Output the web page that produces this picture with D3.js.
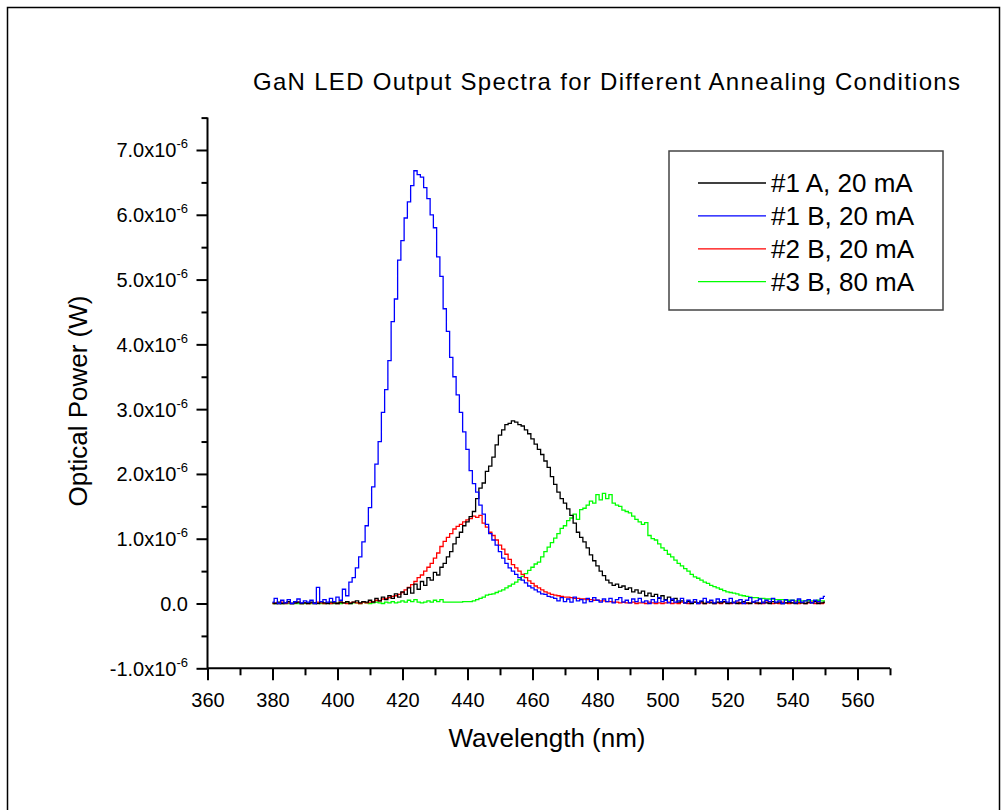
<!DOCTYPE html>
<html lang="en">
  <head>
    <meta charset="utf-8">
    <title>GaN LED Output Spectra</title>
    <script src="https://d3js.org/d3.v7.min.js"></script>
    <style>
      body { margin: 0; background: #fff; }
      text { font-family: "Liberation Sans", Arial, sans-serif; fill: #000; }
    </style>
  </head>
  <body>
  <div id="my_dataviz"></div>

  <script>

    // wavelength grid of the spectrometer, nm (1 nm steps)
    var wavelengths = d3.range(380, 551);

    // optical power in units of 1e-6 W, one value per nm from 380 to 550
    var spec1A = [
      0.01, 0.00, 0.02, 0.00, 0.01, 0.03, 0.00, 0.01, 0.02, 0.00,
      0.01, 0.00, 0.02, 0.01, 0.00, 0.03, 0.01, 0.00, 0.02, 0.01,
      0.00, 0.02, 0.01, 0.03, 0.00, 0.02, 0.04, 0.01, 0.03, 0.02,
      0.05, 0.02, 0.08, 0.04, 0.10, 0.06, 0.12, 0.08, 0.15, 0.10,
      0.18, 0.14, 0.24, 0.16, 0.30, 0.22, 0.34, 0.28, 0.40, 0.36,
      0.48, 0.44, 0.56, 0.62, 0.72, 0.80, 0.92, 1.02, 1.10, 1.20,
      1.26, 1.34, 1.42, 1.62, 1.78, 1.86, 2.04, 2.12, 2.26, 2.45,
      2.60, 2.68, 2.76, 2.78, 2.82, 2.80, 2.76, 2.74, 2.68, 2.62,
      2.54, 2.46, 2.38, 2.30, 2.20, 2.10, 1.96, 1.84, 1.72, 1.62,
      1.55, 1.46, 1.36, 1.24, 1.10, 1.02, 0.95, 0.86, 0.75, 0.66,
      0.58, 0.50, 0.43, 0.36, 0.32, 0.28, 0.30, 0.25, 0.27, 0.22,
      0.24, 0.18, 0.21, 0.16, 0.19, 0.12, 0.16, 0.11, 0.14, 0.08,
      0.12, 0.06, 0.10, 0.05, 0.08, 0.02, 0.04, 0.01, 0.03, 0.00,
      0.02, 0.01, 0.03, 0.00, 0.02, 0.01, 0.00, 0.02, 0.01, 0.03,
      0.00, 0.01, 0.02, 0.00, 0.01, 0.03, 0.01, 0.00, 0.02, 0.01,
      0.00, 0.02, 0.01, 0.00, 0.03, 0.01, 0.02, 0.00, 0.01, 0.02,
      0.01, 0.00, 0.02, 0.01, 0.00, 0.02, 0.01, 0.03, 0.00, 0.01,
      0.02
    ];

    var spec1B = [
      0.02, 0.08, 0.00, 0.05, 0.01, 0.06, 0.00, 0.03, 0.07, 0.01,
      0.04, 0.02, 0.05, 0.00, 0.25, 0.03, 0.06, 0.02, 0.08, 0.03,
      0.10, 0.05, 0.22, 0.12, 0.33, 0.40, 0.55, 0.72, 0.95, 1.20,
      1.48, 1.80, 2.15, 2.50, 2.95, 3.30, 3.75, 4.35, 4.70, 5.30,
      5.60, 5.95, 6.20, 6.45, 6.68, 6.62, 6.58, 6.42, 6.25, 6.00,
      5.80, 5.35, 5.05, 4.55, 4.20, 3.80, 3.50, 3.22, 2.95, 2.65,
      2.38, 2.05, 1.85, 1.72, 1.52, 1.38, 1.22, 1.08, 0.98, 0.90,
      0.80, 0.70, 0.62, 0.55, 0.50, 0.45, 0.40, 0.36, 0.32, 0.27,
      0.24, 0.21, 0.18, 0.15, 0.14, 0.11, 0.10, 0.08, 0.04, 0.09,
      0.03, 0.07, 0.02, 0.10, 0.04, 0.06, 0.01, 0.08, 0.03, 0.09,
      0.05, 0.02, 0.07, 0.03, 0.08, 0.01, 0.06, 0.09, 0.02, 0.05,
      0.01, 0.07, 0.03, 0.08, 0.02, 0.04, 0.00, 0.06, 0.02, 0.09,
      0.03, 0.05, 0.01, 0.07, 0.02, 0.04, 0.08, 0.01, 0.05, 0.02,
      0.06, 0.00, 0.04, 0.08, 0.02, 0.05, 0.01, 0.07, 0.03, 0.06,
      0.02, 0.08, 0.01, 0.04, 0.06, 0.00, 0.05, 0.09, 0.02, 0.04,
      0.07, 0.01, 0.05, 0.03, 0.08, 0.02, 0.04, 0.00, 0.06, 0.03,
      0.05, 0.01, 0.07, 0.02, 0.04, 0.06, 0.01, 0.05, 0.03, 0.08,
      0.11
    ];

    var spec2B = [
      0.00, 0.01, 0.00, 0.02, 0.00, 0.01, 0.00, 0.01, 0.02, 0.00,
      0.01, 0.00, 0.01, 0.00, 0.02, 0.01, 0.00, 0.01, 0.00, 0.01,
      0.00, 0.02, 0.01, 0.00, 0.01, 0.02, 0.01, 0.00, 0.02, 0.01,
      0.02, 0.03, 0.05, 0.04, 0.07, 0.08, 0.09, 0.11, 0.12, 0.14,
      0.17, 0.21, 0.25, 0.29, 0.34, 0.40, 0.44, 0.50, 0.56, 0.62,
      0.70, 0.78, 0.88, 0.96, 1.02, 1.08, 1.15, 1.19, 1.22, 1.26,
      1.29, 1.31, 1.35, 1.33, 1.36, 1.24, 1.18, 1.10, 1.05, 0.98,
      0.90, 0.84, 0.76, 0.68, 0.60, 0.55, 0.50, 0.45, 0.40, 0.35,
      0.31, 0.27, 0.24, 0.21, 0.18, 0.16, 0.14, 0.13, 0.12, 0.11,
      0.10, 0.10, 0.09, 0.08, 0.08, 0.07, 0.07, 0.06, 0.06, 0.05,
      0.05, 0.04, 0.04, 0.03, 0.03, 0.02, 0.02, 0.01, 0.02, 0.01,
      0.01, 0.02, 0.00, 0.01, 0.01, 0.00, 0.02, 0.01, 0.00, 0.01,
      0.00, 0.01, 0.02, 0.00, 0.01, 0.00, 0.02, 0.01, 0.00, 0.01,
      0.02, 0.00, 0.01, 0.00, 0.01, 0.02, 0.00, 0.01, 0.00, 0.02,
      0.01, 0.00, 0.01, 0.02, 0.00, 0.01, 0.00, 0.01, 0.02, 0.00,
      0.01, 0.00, 0.02, 0.01, 0.00, 0.01, 0.00, 0.02, 0.01, 0.00,
      0.01, 0.02, 0.00, 0.01, 0.00, 0.01, 0.02, 0.00, 0.01, 0.00,
      0.01
    ];

    var spec3B = [
      0.00, 0.00, 0.00, 0.00, 0.00, 0.00, 0.00, 0.00, 0.00, 0.00,
      0.00, 0.01, 0.00, 0.00, 0.01, 0.00, 0.00, 0.01, 0.00, 0.00,
      0.01, 0.00, 0.01, 0.02, 0.00, 0.01, 0.01, 0.00, 0.02, 0.01,
      0.00, 0.01, 0.02, 0.01, 0.00, 0.02, 0.01, 0.03, 0.01, 0.02,
      0.04, 0.02, 0.05, 0.03, 0.06, 0.02, 0.01, 0.02, 0.04, 0.02,
      0.05, 0.03, 0.06, 0.02, 0.02, 0.02, 0.02, 0.02, 0.02, 0.03,
      0.03, 0.03, 0.04, 0.06, 0.08, 0.10, 0.13, 0.14, 0.15, 0.17,
      0.19, 0.21, 0.24, 0.27, 0.30, 0.33, 0.37, 0.42, 0.46, 0.51,
      0.56, 0.61, 0.64, 0.72, 0.80, 0.87, 0.94, 1.01, 1.08, 1.16,
      1.20, 1.28, 1.32, 1.38, 1.30, 1.45, 1.47, 1.52, 1.58, 1.55,
      1.68, 1.60, 1.70, 1.62, 1.68, 1.55, 1.52, 1.50, 1.44, 1.42,
      1.40, 1.35, 1.30, 1.26, 1.22, 1.25, 1.05, 1.00, 0.98, 0.92,
      0.86, 0.82, 0.76, 0.72, 0.67, 0.62, 0.58, 0.54, 0.50, 0.45,
      0.41, 0.39, 0.36, 0.33, 0.31, 0.28, 0.26, 0.24, 0.22, 0.20,
      0.18, 0.17, 0.16, 0.15, 0.13, 0.12, 0.11, 0.10, 0.09, 0.09,
      0.08, 0.08, 0.07, 0.07, 0.07, 0.06, 0.06, 0.06, 0.05, 0.05,
      0.05, 0.04, 0.05, 0.04, 0.04, 0.05, 0.04, 0.04, 0.05, 0.04,
      0.04
    ];

    var seriesNames = ["#1 A, 20 mA", "#1 B, 20 mA", "#2 B, 20 mA", "#3 B, 80 mA"];
    var seriesColors = ["#000000", "#0000ff", "#ff0000", "#00ff00"];
    var seriesValues = [spec1A, spec1B, spec2B, spec3B];

    var xMajorTicks = [360, 380, 400, 420, 440, 460, 480, 500, 520, 540, 560];
    var xMinorTicks = [370, 390, 410, 430, 450, 470, 490, 510, 530, 550, 570];
    var yMajorTicks = [-1, 0, 1, 2, 3, 4, 5, 6, 7];
    var yMinorTicks = [-0.5, 0.5, 1.5, 2.5, 3.5, 4.5, 5.5, 6.5, 7.5];

    var w = 1002;
    var h = 810;

    // scales (y in units of 1e-6 W)
    var xScale = d3.scaleLinear()
      .domain([360, 570])
      .range([207.5, 890]);

    var yScale = d3.scaleLinear()
      .domain([-1, 7.5])
      .range([668.3, 117.6]);

    var svg = d3.select("#my_dataviz")
      .append("svg")
      .attr("width", w)
      .attr("height", h);

    // outer frame
    svg.append("rect")
      .attr("x", 7.5)
      .attr("y", 7.5)
      .attr("width", 992)
      .attr("height", 820)
      .attr("fill", "none")
      .attr("stroke", "#000")
      .attr("stroke-width", 1.5);

    // title
    svg.append("text")
      .attr("x", 253)
      .attr("y", 90)
      .attr("textLength", 707)
      .attr("lengthAdjust", "spacing")
      .style("font-size", "24px")
      .text("GaN LED Output Spectra for Different Annealing Conditions");

    // curves, drawn as steps like the original spectrometer export
    var line = d3.line()
      .x(function(d, i) { return xScale(wavelengths[i]); })
      .y(function(d) { return yScale(d); })
      .curve(d3.curveStep);

    var drawOrder = [3, 2, 0, 1];
    drawOrder.forEach(function(k) {
      svg.append("path")
        .datum(seriesValues[k])
        .attr("fill", "none")
        .attr("stroke", seriesColors[k])
        .attr("stroke-width", 1.3)
        .attr("d", line);
    });

    // X axis with outward major and minor ticks
    var xAxis = d3.axisBottom(xScale)
      .tickValues(xMajorTicks)
      .tickSize(12)
      .tickPadding(13)
      .tickFormat(d3.format("d"));

    var xMinor = d3.axisBottom(xScale)
      .tickValues(xMinorTicks)
      .tickSize(7)
      .tickFormat("");

    svg.append("g")
      .attr("id", "xaxis")
      .attr("transform", "translate(0," + yScale(-1) + ")")
      .call(xAxis);

    svg.append("g")
      .attr("transform", "translate(0," + yScale(-1) + ")")
      .call(xMinor);

    // Y axis
    var yAxis = d3.axisLeft(yScale)
      .tickValues(yMajorTicks)
      .tickSize(11)
      .tickFormat("");

    var yMinor = d3.axisLeft(yScale)
      .tickValues(yMinorTicks)
      .tickSize(6)
      .tickFormat("");

    svg.append("g")
      .attr("id", "yaxis")
      .attr("transform", "translate(" + xScale(360) + ",0)")
      .call(yAxis);

    svg.append("g")
      .attr("transform", "translate(" + xScale(360) + ",0)")
      .call(yMinor);

    svg.selectAll(".domain").remove();

    // axis lines drawn by hand so they meet at the corner
    svg.append("line")
      .attr("x1", xScale(360)).attr("x2", xScale(570))
      .attr("y1", yScale(-1)).attr("y2", yScale(-1))
      .attr("stroke", "#000").attr("stroke-width", 2);
    svg.append("line")
      .attr("x1", xScale(360)).attr("x2", xScale(360))
      .attr("y1", yScale(-1)).attr("y2", yScale(7.5))
      .attr("stroke", "#000").attr("stroke-width", 2);

    svg.selectAll(".tick line")
      .attr("stroke-width", 2);

    svg.selectAll("#xaxis .tick text")
      .style("font-size", "20px")
      .style("font-family", "'Liberation Sans', Arial, sans-serif");

    // y tick labels like 7.0x10^-6
    var yLabels = svg.append("g");
    yMajorTicks.forEach(function(v) {
      var t = yLabels.append("text")
        .attr("x", 188)
        .attr("y", yScale(v) + 7.5)
        .attr("text-anchor", "end")
        .style("font-size", "20px");
      if (v === 0) {
        t.text("0.0");
      } else {
        t.append("tspan").text(v.toFixed(1) + "x10");
        t.append("tspan")
          .attr("dy", -9)
          .style("font-size", "13px")
          .text("-6");
      }
    });

    // axis titles
    svg.append("text")
      .attr("x", 547)
      .attr("y", 747)
      .attr("text-anchor", "middle")
      .style("font-size", "26px")
      .text("Wavelength (nm)");

    svg.append("text")
      .attr("transform", "translate(87,401) rotate(-90)")
      .attr("text-anchor", "middle")
      .style("font-size", "26px")
      .text("Optical Power (W)");

    // legend
    var legend = svg.append("g");
    legend.append("rect")
      .attr("x", 669)
      .attr("y", 151)
      .attr("width", 274)
      .attr("height", 159)
      .attr("fill", "#fff")
      .attr("stroke", "#444")
      .attr("stroke-width", 1.5);

    seriesNames.forEach(function(name, i) {
      var ly = 183 + i * 32.9;
      legend.append("line")
        .attr("x1", 698).attr("x2", 766)
        .attr("y1", ly).attr("y2", ly)
        .attr("stroke", seriesColors[i])
        .attr("stroke-width", 1.3);
      legend.append("text")
        .attr("x", 771)
        .attr("y", ly + 9)
        .style("font-size", "26px")
        .text(name);
    });

  </script>
  </body>
</html>
